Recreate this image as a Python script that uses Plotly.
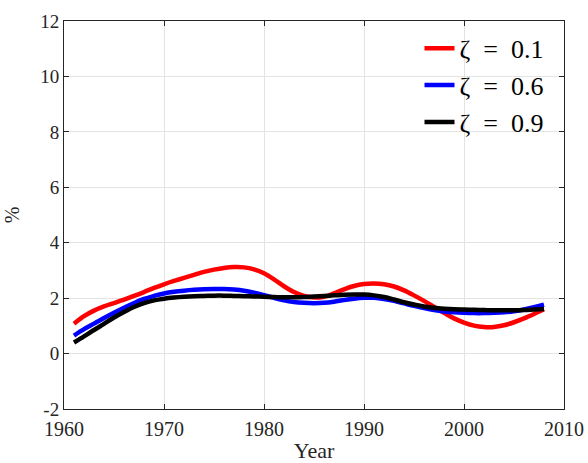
import plotly.graph_objects as go

# Annual series, 1961-2008
years = list(range(1961, 2009))

zeta_01 = [1.08, 1.35, 1.55, 1.70, 1.82, 1.95, 2.08, 2.22, 2.37, 2.50,
           2.62, 2.73, 2.84, 2.95, 3.03, 3.09, 3.12, 3.11, 3.04, 2.90,
           2.68, 2.43, 2.22, 2.08, 2.02, 2.05, 2.17, 2.32, 2.44, 2.51,
           2.53, 2.50, 2.42, 2.28, 2.10, 1.90, 1.68, 1.47, 1.27, 1.12,
           1.01, 0.96, 0.96, 1.02, 1.13, 1.27, 1.43, 1.60]

zeta_06 = [0.65, 0.88, 1.08, 1.28, 1.47, 1.65, 1.82, 1.97, 2.08, 2.17,
           2.23, 2.27, 2.30, 2.32, 2.33, 2.33, 2.31, 2.27, 2.20, 2.11,
           2.01, 1.92, 1.86, 1.83, 1.82, 1.83, 1.87, 1.93, 1.98, 2.01,
           2.01, 1.97, 1.90, 1.81, 1.72, 1.64, 1.57, 1.52, 1.49, 1.47,
           1.46, 1.46, 1.47, 1.49, 1.53, 1.59, 1.67, 1.76]

zeta_09 = [0.40, 0.62, 0.85, 1.07, 1.30, 1.50, 1.68, 1.82, 1.92, 1.98,
           2.02, 2.05, 2.07, 2.08, 2.09, 2.09, 2.08, 2.07, 2.06, 2.05,
           2.04, 2.03, 2.03, 2.04, 2.06, 2.08, 2.10, 2.12, 2.13, 2.13,
           2.10, 2.04, 1.95, 1.85, 1.77, 1.70, 1.65, 1.62, 1.60, 1.59,
           1.58, 1.57, 1.56, 1.56, 1.56, 1.57, 1.59, 1.61]

SP = "\u2002"
series = [
    (f"ζ{SP}={SP}0.1", zeta_01, "#ff0000"),
    (f"ζ{SP}={SP}0.6", zeta_06, "#0000ff"),
    (f"ζ{SP}={SP}0.9", zeta_09, "#000000"),
]

x_ticks = [1960, 1970, 1980, 1990, 2000, 2010]
y_ticks = [-2, 0, 2, 4, 6, 8, 10, 12]

SERIF = "Liberation Serif, DejaVu Serif, serif"
AXIS_COLOR = "#262626"

fig = go.Figure()
for name, vals, color in series:
    fig.add_trace(go.Scatter(
        x=years, y=vals, name=name, mode="lines",
        line=dict(color=color, width=4.5, shape="spline"),
    ))

axis_common = dict(
    showline=True, linecolor=AXIS_COLOR, linewidth=1, mirror="ticks",
    ticks="inside", ticklen=5, tickcolor=AXIS_COLOR,
    showgrid=True, gridcolor="#e3e3e3", gridwidth=1,
    zeroline=False, automargin=False,
)

fig.update_xaxes(
    range=[1960, 2010], tickvals=x_ticks, ticklabelstandoff=2,
    tickfont=dict(family=SERIF, size=20, color=AXIS_COLOR),
    title=dict(text="Year", font=dict(family=SERIF, size=22, color=AXIS_COLOR)),
    **axis_common,
)
fig.update_yaxes(
    range=[-2, 12], tickvals=y_ticks, ticktext=[str(v) for v in y_ticks],
    ticklabelstandoff=0,
    tickfont=dict(family=SERIF, size=19, color=AXIS_COLOR),
    title=dict(text="%", font=dict(family=SERIF, size=20, color=AXIS_COLOR)),
    **axis_common,
)

fig.update_layout(
    width=588, height=463,
    margin=dict(l=64, r=24, t=21, b=54),
    paper_bgcolor="white", plot_bgcolor="white",
    font=dict(family=SERIF, color="black"),
    legend=dict(
        x=0.969, y=0.99, xanchor="right", yanchor="top",
        bgcolor="rgba(255,255,255,0)", borderwidth=0,
        font=dict(family=SERIF, size=26, color="black"),
        itemwidth=30, tracegroupgap=0,
    ),
)

fig.write_html("out.html")
